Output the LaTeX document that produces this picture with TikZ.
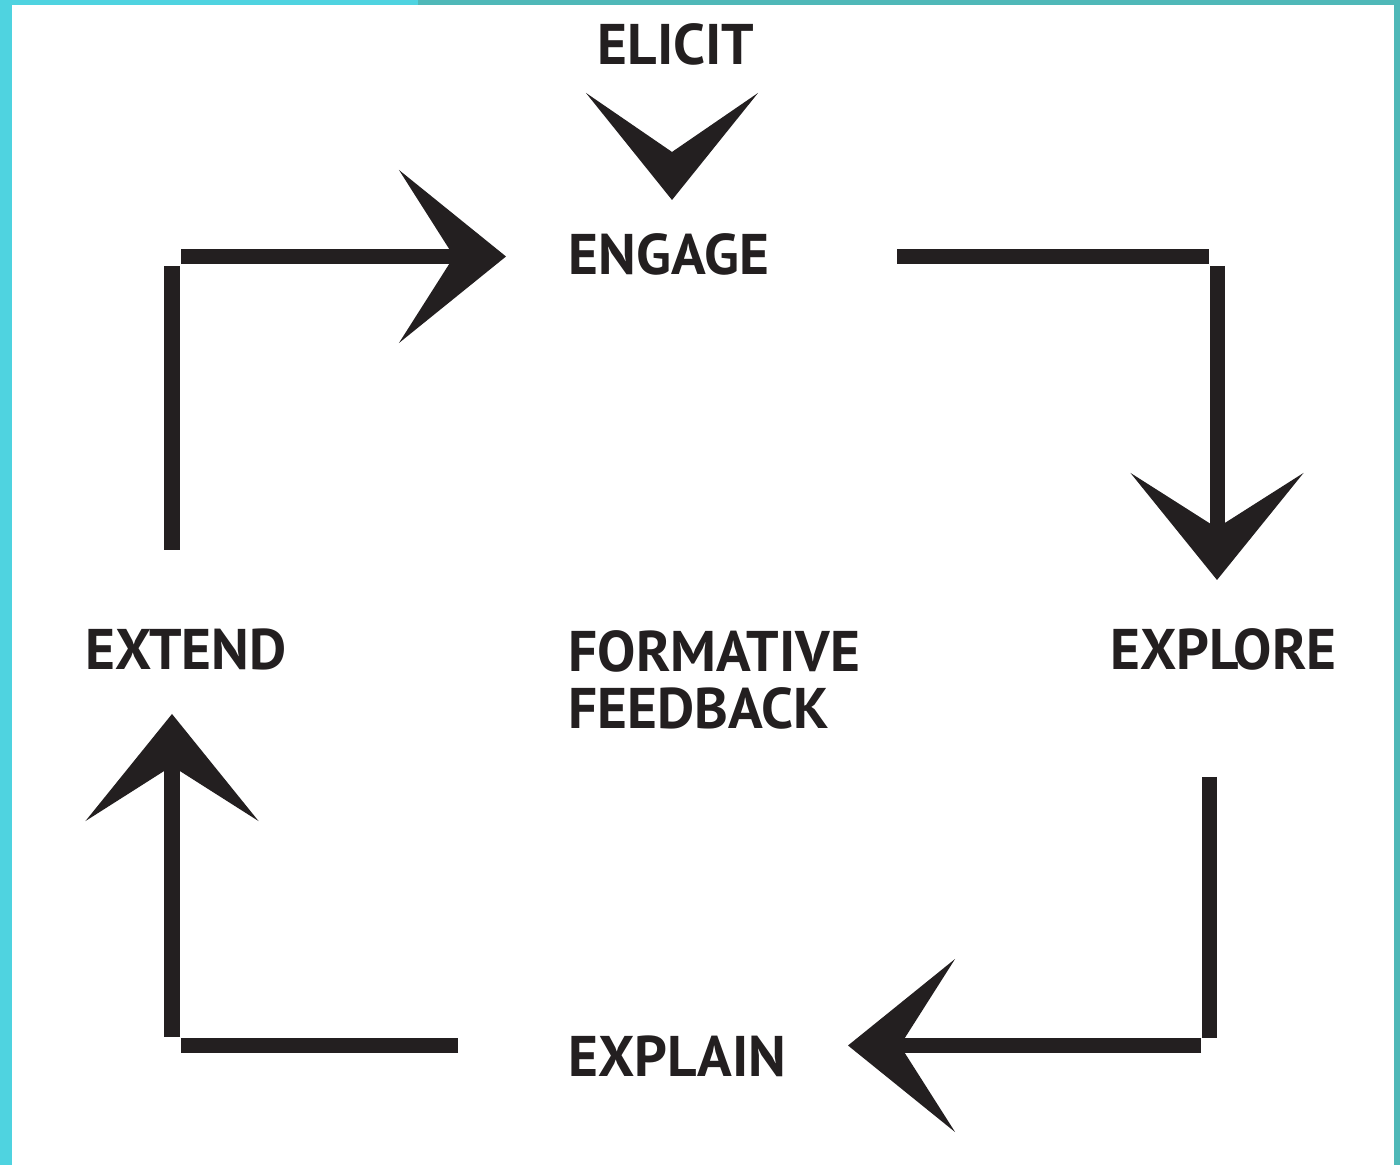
\documentclass[tikz,border=0pt]{standalone}
\usepackage{fontspec}
\setmainfont{PT Sans}
\usetikzlibrary{arrows.meta,decorations.markings}
\definecolor{ink}{HTML}{231F20}
\definecolor{frameleft}{HTML}{4FD3E0}
\definecolor{frameright}{HTML}{4FB8B8}
\tikzset{
  stage/.style={anchor=base west, inner sep=0pt, text=ink,
    font=\bfseries\fontsize{16.3}{16.2}\selectfont},
  bar/.style={draw=ink, line width=0.15cm},
  head/.style={-{Stealth[length=1.07cm,width=1.73cm,inset=0.55cm,line width=0pt]}}
}
\begin{document}
\begin{tikzpicture}[x=0.01cm,y=-0.01cm]
      \useasboundingbox (0,0) rectangle (1400,1165);
      \fill[frameleft] (0,0) rectangle (1400,1165);
      \fill[frameright] (418,0) rectangle (1400,5) (1394,0) rectangle (1400,1165);
      \fill[white] (12,5) rectangle (1394,1165);
      \draw
        (597,65) node[stage] (elicit){ELICIT}
        (568,275) node[stage] (engage){ENGAGE}
        (1110,670) node[stage] (explore){EXPLORE}
        (568,1077) node[stage] (explain){EXPLAIN}
        (85,670) node[stage] (extend){EXTEND}
        (568,630) node[stage, anchor=north west, align=left] (formative){FORMATIVE\\FEEDBACK};
      \coordinate (elicit-in) at (672,150);
      \coordinate (elicit-out) at (672,200);
      \coordinate (engage-in) at (506,256.5);
      \coordinate (engage-out) at (897,256.5);
      \coordinate (explore-in) at (1217,580);
      \coordinate (explore-out) at (1209.5,777);
      \coordinate (explain-in) at (848,1045.5);
      \coordinate (explain-out) at (458,1045.5);
      \coordinate (extend-in) at (172,714);
      \coordinate (extend-out) at (172,550);
      \begin{scope}[bar]
        \path[ink, decoration={markings,
            mark=at position 1 with {\arrow{Stealth[length=1.07cm,width=1.72cm,inset=0.59cm,line width=0pt]}}},
          decorate] (elicit-in) to (elicit-out);
        \draw (extend-out) to (172,266);
        \draw[head] (181,256.5) to (engage-in);
        \draw (engage-out) to (1209,256.5);
        \draw[head] (1217,266) to (explore-in);
        \draw (explore-out) to (1209.5,1038);
        \draw[head] (1201,1045.5) to (explain-in);
        \draw (explain-out) to (181,1045.5);
        \draw[head] (172,1037) to (extend-in);
      \end{scope}
    \end{tikzpicture}
\end{document}
